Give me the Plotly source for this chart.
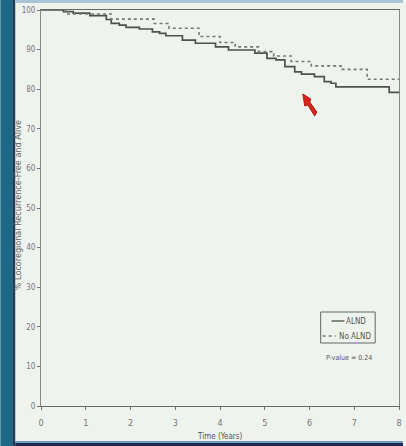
import plotly.graph_objects as go

# Kaplan-Meier estimates (time in years, % locoregional recurrence-free and alive)
alnd_time = [0, 0.50, 0.72, 1.09, 1.46, 1.57, 1.75, 1.90, 2.20, 2.49, 2.65, 2.79,
             3.16, 3.45, 3.90, 4.19, 4.78, 5.05, 5.25, 5.45, 5.67, 5.82, 6.11,
             6.33, 6.48, 6.59, 7.78, 8.0]
alnd_surv = [100, 99.6, 99.2, 98.6, 97.6, 96.6, 96.2, 95.6, 95.2, 94.5, 94.1, 93.5,
             92.4, 91.6, 90.7, 89.9, 89.1, 87.8, 87.4, 85.7, 84.4, 83.8, 83.2,
             81.9, 81.5, 80.6, 79.2, 79.2]

no_alnd_time = [0, 0.55, 1.57, 2.53, 2.86, 3.53, 4.0, 4.34, 4.86, 5.2, 5.59,
                6.04, 6.70, 7.29, 8.0]
no_alnd_surv = [100, 99.0, 97.7, 96.6, 95.4, 93.3, 91.8, 90.7, 89.5, 88.4, 87.0,
                85.9, 85.0, 82.5, 82.5]

x_ticks = [0, 1, 2, 3, 4, 5, 6, 7, 8]
y_ticks = [0, 10, 20, 30, 40, 50, 60, 70, 80, 90, 100]
series_names = ["ALND", "No ALND"]
p_value = "P-value = 0.24"

FONT = "Liberation Sans Narrow, DejaVu Sans Condensed, Arial Narrow, Liberation Sans, sans-serif"
SOLID = "#505050"
DOTTED = "#777777"

W, H = 406, 446
L, R, T, B = 41, 4, 10, 40
pw, ph = W - L - R, H - T - B


def px_x(p):
    return (p - L) / pw


def px_y(p):
    return (H - B - p) / ph


fig = go.Figure()
fig.add_trace(go.Scatter(
    x=alnd_time, y=alnd_surv, mode="lines", name=series_names[0],
    line=dict(shape="hv", color=SOLID, width=1.7),
))
fig.add_trace(go.Scatter(
    x=no_alnd_time, y=no_alnd_surv, mode="lines", name=series_names[1],
    line=dict(shape="hv", color=DOTTED, width=1.6, dash="dot"),
))

# slide frame: teal strip on the left, thin bands at top and bottom
shapes = [
    dict(type="rect", xref="paper", yref="paper", layer="below",
         x0=px_x(0), x1=px_x(12), y0=px_y(H), y1=px_y(0),
         fillcolor="#1d6884", line_width=0),
    dict(type="rect", xref="paper", yref="paper", layer="below",
         x0=px_x(12), x1=px_x(15), y0=px_y(H), y1=px_y(0),
         fillcolor="#1b3c5c", line_width=0),
    dict(type="rect", xref="paper", yref="paper", layer="below",
         x0=px_x(15), x1=px_x(W), y0=px_y(3), y1=px_y(0),
         fillcolor="#a8c4d6", line_width=0),
    dict(type="rect", xref="paper", yref="paper", layer="below",
         x0=px_x(15), x1=px_x(W), y0=px_y(H), y1=px_y(442),
         fillcolor="#1c2b4b", line_width=0),
    dict(type="rect", xref="paper", yref="paper", layer="below",
         x0=px_x(15), x1=px_x(W), y0=px_y(443), y1=px_y(441),
         fillcolor="#6f9cc4", line_width=0),
    # legend box and its two line samples
    dict(type="rect", xref="paper", yref="paper",
         x0=px_x(323), x1=px_x(378), y0=px_y(343), y1=px_y(312),
         line=dict(color="#666666", width=1), fillcolor="rgba(0,0,0,0)"),
    dict(type="line", xref="paper", yref="paper",
         x0=px_x(334), x1=px_x(347), y0=px_y(321), y1=px_y(321),
         line=dict(color=SOLID, width=1.3)),
    dict(type="line", xref="paper", yref="paper",
         x0=px_x(325), x1=px_x(338), y0=px_y(336), y1=px_y(336),
         line=dict(color=DOTTED, width=1.3, dash="dot")),
]

# red pointer on the slide, drawn in pixel-derived paper coordinates
ptr = [(305, 94), (313, 99), (312, 102), (319, 112), (317, 116), (310, 105), (307, 106)]
path = "M " + " L ".join(f"{px_x(a):.4f},{px_y(b):.4f}" for a, b in ptr) + " Z"
shapes.append(dict(type="path", xref="paper", yref="paper", path=path,
                   fillcolor="#d8261c", line=dict(color="#b01810", width=1)))

annotations = [
    dict(text=series_names[0], xref="paper", yref="paper", x=px_x(347), y=px_y(321),
         xanchor="left", yanchor="middle", showarrow=False,
         font=dict(size=8, color="#555555", family=FONT)),
    dict(text=series_names[1], xref="paper", yref="paper", x=px_x(339), y=px_y(336),
         xanchor="left", yanchor="middle", showarrow=False,
         font=dict(size=8, color="#555555", family=FONT)),
    dict(text=p_value, xref="paper", yref="paper", x=px_x(352), y=px_y(358),
         xanchor="center", yanchor="middle", showarrow=False,
         font=dict(size=7, color="#555555", family=FONT)),
    dict(text="% Locoregional Recurrence-Free and Alive", xref="paper", yref="paper",
         x=px_x(18), y=px_y(205), xanchor="center", yanchor="middle",
         textangle=-90, showarrow=False,
         font=dict(size=9, color="#666666", family=FONT)),
    dict(text="Time (Years)", xref="paper", yref="paper",
         x=px_x(222), y=px_y(436), xanchor="center", yanchor="middle",
         showarrow=False, font=dict(size=8, color="#555555", family=FONT)),
]

fig.update_layout(
    width=W, height=H,
    margin=dict(l=L, r=R, t=T, b=B),
    paper_bgcolor="#eef3ee",
    plot_bgcolor="#eef3ee",
    font=dict(family=FONT, color="#666666", size=9),
    shapes=shapes,
    annotations=annotations,
    showlegend=False,
    xaxis=dict(
        range=[0, 8], tickvals=x_ticks, ticktext=[str(v) for v in x_ticks],
        showgrid=False, zeroline=False,
        showline=True, linecolor="#666666", linewidth=1.2, mirror=True,
        ticks="outside", ticklen=3, tickcolor="#777777",
        ticklabelstandoff=5,
        tickfont=dict(size=9, color="#777777"),
    ),
    yaxis=dict(
        range=[0, 100], tickvals=y_ticks, ticktext=[str(v) for v in y_ticks],
        showgrid=False, zeroline=False,
        showline=True, linecolor="#888888", linewidth=1, mirror=True,
        ticks="outside", ticklen=3, tickcolor="#777777",
        tickfont=dict(size=8, color="#777777"),
    ),
)

fig.write_html("out.html")
